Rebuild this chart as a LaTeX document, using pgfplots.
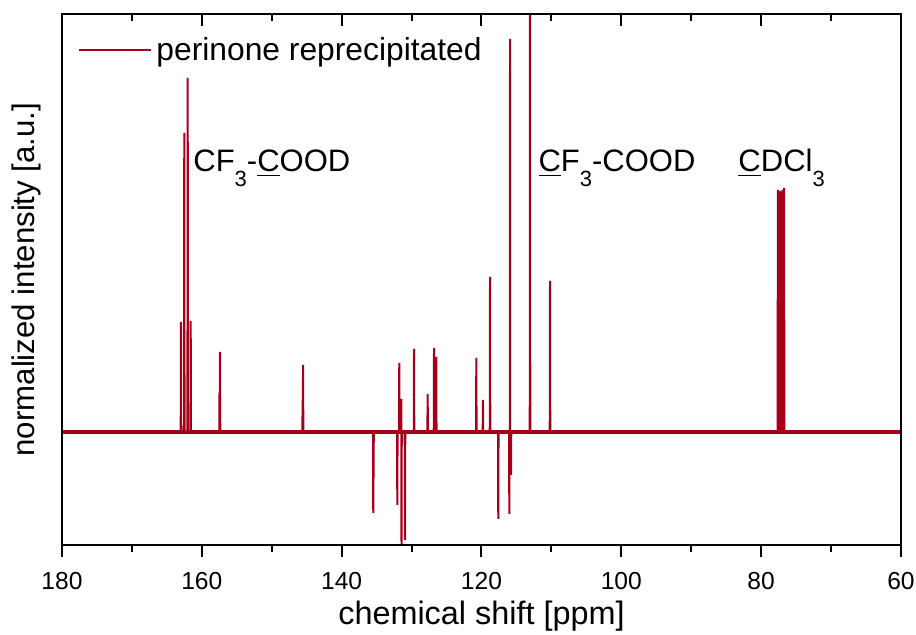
\documentclass[border=0pt]{standalone}
\usepackage{fontspec}
\setmainfont{Liberation Sans}
\usepackage{pgfplots}
\pgfplotsset{compat=1.18}
\definecolor{wine}{RGB}{165,0,25}
\newcommand\sub[1]{\raisebox{-7.5pt}{\fontsize{11}{12}\selectfont #1}}
\begin{document}
\begin{tikzpicture}
\pgfplotsset{
 common/.style={
  scale only axis, width=419.5pt, height=265.5pt,
  x dir=reverse, xmin=60, xmax=180, ymin=-113, ymax=418,
  xtick={60,80,...,180}, minor x tick num=1, ytick=\empty,
  axis line style={line width=1pt},
  every tick/.style={black, line width=1pt},
  major tick length=6pt, minor tick length=3.5pt,
 }
}
\begin{axis}[common, tick align=outside, xtick pos=left,
  /pgf/number format/assume math mode=true,
  xticklabel style={font=\fontsize{12.3}{14}\selectfont, yshift=-4pt},
  xlabel={chemical shift [ppm]}, ylabel={normalized intensity [a.u.]},
  xlabel style={font=\fontsize{16.2}{18}\selectfont, at={(axis description cs:0.5,-0.1488)}, anchor=base},
  ylabel style={font=\fontsize{15.6}{18}\selectfont, at={(axis description cs:-0.0322,0.5)}, anchor=base},
  legend style={draw=none, fill=none, at={(axis description cs:0.0191,0.932)}, anchor=west,
    font=\fontsize{15.9}{18}\selectfont, inner sep=0pt},
  legend image code/.code={\draw[#1] (0pt,0pt) -- (36pt,0pt);},
]
\addplot[wine, line width=1pt] coordinates {
(180,0)
(163.02,0) (162.98,110) (162.94,0)
(162.55,0) (162.51,299) (162.47,0)
(162.06,0) (162.02,354) (161.98,0)
(161.63,0) (161.59,111) (161.55,0)
(157.50,0) (157.47,40) (157.44,20) (157.40,80) (157.36,0)
(145.62,0) (145.58,32) (145.55,15) (145.52,67) (145.48,0)
(135.52,0) (135.48,-81) (135.44,-40) (135.40,0)
(132.08,0) (132.04,-73) (132.00,0)
(131.80,0) (131.76,69) (131.72,0)
(131.51,0) (131.47,33) (131.44,-113) (131.40,0)
(130.98,0) (130.94,-108) (130.90,0)
(129.69,0) (129.65,83) (129.61,0)
(127.74,0) (127.70,38) (127.66,0)
(126.83,0) (126.79,84) (126.75,0)
(126.51,0) (126.47,75) (126.43,0)
(120.78,0) (120.74,74) (120.70,0)
(119.83,0) (119.79,32) (119.75,0)
(118.82,0) (118.78,155) (118.74,0)
(117.64,0) (117.60,-87) (117.56,0)
(116.06,0) (116.02,-82) (115.98,0)
(115.95,0) (115.92,393) (115.89,0)
(115.82,0) (115.78,-43) (115.74,0)
(113.10,0) (113.06,440) (113.02,0)
(110.24,0) (110.20,151) (110.16,0)
(77.66,0) (77.60,242) (77.54,0) (77.42,0) (77.37,241) (77.32,0)
(77.23,0) (77.17,240) (77.11,0) (77.00,0) (76.95,242) (76.90,0)
(76.79,0) (76.73,244) (76.67,0)
(60,0)
};
\addlegendentry{perinone reprecipitated}
\addplot[wine, line width=1.6pt, forget plot] coordinates {(180,0) (60,0)};
\node[anchor=base west, font=\fontsize{15.5}{18}\selectfont, inner sep=0pt] at (axis cs:161.26,260) {CF\sub{3}-\underline{C}OOD};
\node[anchor=base west, font=\fontsize{15.5}{18}\selectfont, inner sep=0pt] at (axis cs:111.9,260) {\underline{C}F\sub{3}-COOD};
\node[anchor=base west, font=\fontsize{15.5}{18}\selectfont, inner sep=0pt] at (axis cs:83.3,260) {\underline{C}DCl\sub{3}};
\end{axis}
\begin{axis}[common, tick align=inside, xtick pos=right, xticklabels={}]
\end{axis}
\pgfresetboundingbox
\path ([shift={(-31pt,-45pt)}]current axis.south west) rectangle ([shift={(7.5pt,7pt)}]current axis.north east);
\end{tikzpicture}
\end{document}
